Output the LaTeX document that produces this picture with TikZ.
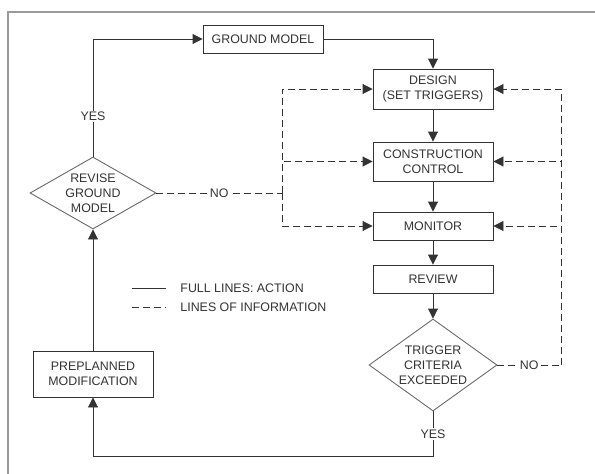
\documentclass[tikz,border=0pt]{standalone}
\usepackage{fontspec}
\setmainfont{Liberation Sans}
\usetikzlibrary{shapes.geometric,arrows.meta}
\definecolor{inkgray}{HTML}{333333}
\definecolor{framegray}{HTML}{9A9A9A}
\definecolor{edgegray}{HTML}{6A6A6A}
\begin{document}
\begin{tikzpicture}[x=1pt, y=-1pt, line width=0.9pt, draw=inkgray, text=inkgray,
		every node/.style={font=\fontsize{12.4}{15}\selectfont, align=center},
		box/.style={rectangle, draw=inkgray, minimum width=120pt, inner sep=2pt},
		decision/.style={diamond, draw=edgegray, inner sep=0pt},
		tag/.style={fill=white, inner sep=1.5pt},
		info/.style={dashed, dash pattern=on 7pt off 4pt},
		>={Triangle[length=10pt, width=10pt]}]
		\useasboundingbox (0,0) rectangle (595,474);
		\draw[framegray, line width=2pt] (8,474) -- (8,12) -- (595,12);
		% action boxes
		\node[box, minimum height=28pt] (ground) at (263, 39) {GROUND MODEL};
		\node[box, minimum height=40pt] (design) at (433, 89) {DESIGN\\(SET TRIGGERS)};
		\node[box, minimum height=39pt] (control) at (433, 161.5) {CONSTRUCTION\\CONTROL};
		\node[box, minimum height=28pt] (monitor) at (433, 226) {MONITOR};
		\node[box, minimum height=28pt] (review) at (433, 279) {REVIEW};
		\node[decision, aspect=1.39, minimum width=128pt, minimum height=92pt] (trigger) at (433, 365) {TRIGGER\\CRITERIA\\EXCEEDED};
		\node[decision, aspect=1.75, minimum width=126pt, minimum height=72pt] (revise) at (93, 193) {REVISE\\GROUND\\MODEL};
		\node[box, minimum height=46pt] (preplan) at (93, 374) {PREPLANNED\\MODIFICATION};
		\coordinate (infoL) at (282, 193);
		\coordinate (infoR) at (561, 365);
		% full lines
		\draw[->] (revise.north) |- node[tag, pos=0.17] {YES} (ground.west);
		\draw[->] (ground.east) -| (design.north);
		\draw[->] (design) -- (control);
		\draw[->] (control) -- (monitor);
		\draw[->] (monitor) -- (review);
		\draw[->] (review) -- (trigger);
		\draw[->] (trigger.south) -- node[tag, pos=0.5] {YES} ++(0, 45) -| (preplan.south);
		\draw[->] (preplan) -- (revise);
		% lines of information
		\draw[info] (revise.east) -- node[tag] {NO} (infoL);
		\draw[info, ->] (infoL) |- (design.west);
		\draw[info, ->] (infoL) |- (control.west);
		\draw[info, ->] (infoL) |- (monitor.west);
		\draw[info] (trigger.east) -- node[tag] {NO} (infoR);
		\draw[info, ->] (infoR) |- (design.east);
		\draw[info, ->] (infoR) |- (control.east);
		\draw[info, ->] (infoR) |- (monitor.east);
		% legend
		\node[anchor=west, inner sep=0pt] (legfull) at (180, 288) {FULL LINES: ACTION};
		\node[anchor=west, inner sep=0pt] (leginfo) at (180, 307) {LINES OF INFORMATION};
		\draw ([xshift=-48pt]legfull.west) -- ([xshift=-14pt]legfull.west);
		\draw[info] ([xshift=-48pt]leginfo.west) -- ([xshift=-14pt]leginfo.west);
	\end{tikzpicture}
\end{document}
